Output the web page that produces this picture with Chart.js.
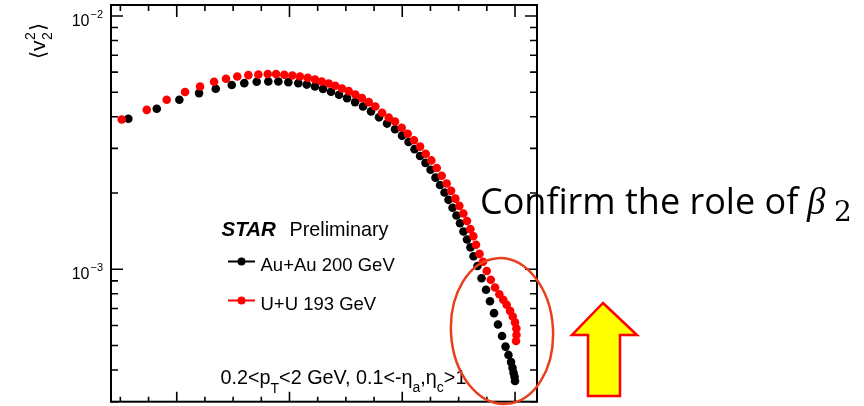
<!DOCTYPE html>
<html>
<head>
<meta charset="utf-8">
<script src="https://cdn.jsdelivr.net/npm/chart.js@4.4.0/dist/chart.umd.min.js"></script>
<style>
  html, body { margin: 0; padding: 0; background: #fff; }
  #wrap { width: 864px; height: 406px; }
</style>
</head>
<body>
<div id="wrap"><canvas id="v2Chart" width="864" height="406"></canvas></div>
<script>
// x axis labels are cut off in the original figure, units are arbitrary
// <v2^2> values are stored in units of 1e-3

// U+U 193 GeV (red)
const uuX = [51.2, 73.4, 91.1, 107.4, 120.7, 133.1, 143.7, 153.7, 163.5, 172.4,
  180.7, 188.1, 195.4, 202.5, 209.3, 216.2, 222.6, 228.6, 234.8, 240.6,
  246.6, 252.5, 258.4, 264.3, 270.3, 276.1, 282.1, 288.0, 293.6, 299.5,
  304.8, 310.4, 315.8, 320.8, 325.8, 330.6, 335.0, 339.4, 343.3, 347.1,
  350.6, 354.2, 357.4, 360.4, 363.0, 365.4, 368.5, 371.6, 374.9, 378.5,
  382.3, 386.1, 389.6, 392.6, 395.6, 398.0, 400.0, 401.2, 401.3, 400.9];
const uuV2 = [3.90, 4.26, 4.67, 5.01, 5.27, 5.50, 5.65, 5.77, 5.84, 5.87,
  5.90, 5.90, 5.86, 5.82, 5.77, 5.70, 5.61, 5.51, 5.41, 5.30,
  5.17, 5.05, 4.90, 4.74, 4.57, 4.39, 4.15, 3.97, 3.83, 3.62,
  3.43, 3.23, 3.05, 2.86, 2.69, 2.51, 2.34, 2.18, 2.04, 1.90,
  1.78, 1.66, 1.55, 1.44, 1.35, 1.25, 1.15, 1.07, 0.985, 0.909,
  0.847, 0.797, 0.758, 0.724, 0.685, 0.651, 0.617, 0.583, 0.550, 0.521];

// Au+Au 200 GeV (black)
const auX = [57.1, 82.3, 102.3, 119.8, 134.6, 148.8, 159.9, 170.9, 181.2, 190.1,
  199.0, 207.8, 215.3, 222.6, 229.7, 236.8, 243.9, 251.0, 258.1, 265.2,
  272.3, 279.4, 286.5, 293.6, 299.8, 305.6, 310.9, 315.8, 320.6, 325.1,
  329.5, 333.5, 337.5, 341.0, 344.6, 348.1, 351.2, 354.3, 357.4, 360.5,
  363.2, 366.7, 370.3, 374.3, 377.8, 381.4, 384.9, 388.5, 391.6, 394.2,
  396.5, 397.8, 398.7, 399.6, 400.0];
const auV2 = [3.93, 4.30, 4.67, 4.96, 5.16, 5.34, 5.43, 5.50, 5.51, 5.51,
  5.48, 5.43, 5.36, 5.27, 5.15, 5.02, 4.89, 4.74, 4.57, 4.39,
  4.20, 3.98, 3.76, 3.57, 3.37, 3.18, 2.98, 2.80, 2.63, 2.47,
  2.30, 2.15, 2.01, 1.88, 1.75, 1.63, 1.52, 1.41, 1.31, 1.22,
  1.125, 1.03, 0.922, 0.830, 0.748, 0.671, 0.605, 0.545, 0.495, 0.459,
  0.430, 0.408, 0.390, 0.376, 0.362];

// axis ticks
const xMinorStep = 25;
const xMajorStep = 100;
const yDecades = [-4, -3, -2];
const yLabelValues = [1e-3, 1e-2];
const yLabelExps = ["\u22123", "\u22122"];

const FONT = '"Liberation Sans", Arial, Helvetica, sans-serif';

function toPoints(xs, vs) {
  return xs.map((x, i) => ({ x: x, y: vs[i] * 1e-3 }));
}

// draw a run of text pieces (sub/superscripts) one after another
function drawRich(ctx, x, y, parts) {
  parts.forEach(p => {
    ctx.font = (p.style || "") + " " + p.size + "px " + (p.family || FONT);
    ctx.fillText(p.t, x, y + (p.dy || 0));
    x += ctx.measureText(p.t).width;
  });
  return x;
}

const decorPlugin = {
  id: "decor",
  afterDatasetsDraw(chart) {
    const ctx = chart.ctx;
    const { left, right, top, bottom } = chart.chartArea;
    const xs = chart.scales.x;
    const ys = chart.scales.y;
    ctx.save();
    ctx.strokeStyle = "#000";
    ctx.fillStyle = "#000";

    // frame
    ctx.lineWidth = 2;
    ctx.strokeRect(left, top, right - left, bottom - top);

    // x ticks, bottom and top
    ctx.lineWidth = 1.6;
    ctx.beginPath();
    for (let v = Math.ceil(xs.min / xMinorStep) * xMinorStep; v <= xs.max; v += xMinorStep) {
      const px = xs.getPixelForValue(v);
      const major = v % xMajorStep === 0;
      ctx.moveTo(px, bottom);
      ctx.lineTo(px, bottom - (major ? 10 : 5));
      ctx.moveTo(px, top);
      ctx.lineTo(px, top + (major ? 12 : 6));
    }
    // y ticks, left and right (log)
    yDecades.forEach(e => {
      for (let m = 1; m <= 9; m++) {
        const v = m * Math.pow(10, e);
        if (v < ys.min || v > ys.max) continue;
        const py = ys.getPixelForValue(v);
        const len = m === 1 ? 12 : 7;
        ctx.moveTo(left, py);
        ctx.lineTo(left + len, py);
        ctx.moveTo(right, py);
        ctx.lineTo(right - len, py);
      }
    });
    ctx.stroke();

    // y tick labels 10^-3, 10^-2
    ctx.textBaseline = "alphabetic";
    yLabelValues.forEach((v, i) => {
      const py = ys.getPixelForValue(v);
      ctx.font = "16px " + FONT;
      ctx.textAlign = "right";
      ctx.fillText("10", 89.5, py + 10);
      ctx.font = "11px " + FONT;
      ctx.textAlign = "left";
      ctx.fillText(yLabelExps[i], 90.5, py + 2);
    });

    // y axis title <v2^2>, rotated
    ctx.save();
    ctx.translate(45, 59);
    ctx.rotate(-Math.PI / 2);
    ctx.textAlign = "left";
    ctx.font = "21px " + FONT;
    ctx.fillText("\u27e8", 0, 0);
    let ax = ctx.measureText("\u27e8").width;
    ctx.fillText("v", ax, 0);
    ax += ctx.measureText("v").width;
    ctx.font = "14px " + FONT;
    ctx.fillText("2", ax + 0.5, -10);
    ctx.fillText("2", ax + 0.5, 7);
    ax += ctx.measureText("2").width + 1.5;
    ctx.font = "21px " + FONT;
    ctx.fillText("\u27e9", ax, 0);
    ctx.restore();

    // STAR Preliminary
    ctx.textAlign = "left";
    ctx.font = "italic bold 20.5px " + FONT;
    ctx.fillText("STAR", 221.5, 236);
    ctx.font = "19.8px " + FONT;
    ctx.fillText("Preliminary", 289.5, 236);

    // legend entries
    const legend = [
      { label: "Au+Au 200 GeV", color: "#000", y: 261.5, base: 271 },
      { label: "U+U 193 GeV", color: "#ff0000", y: 300.5, base: 310 }
    ];
    legend.forEach(l => {
      ctx.strokeStyle = l.color;
      ctx.fillStyle = l.color;
      ctx.lineWidth = 2;
      ctx.beginPath();
      ctx.moveTo(228, l.y);
      ctx.lineTo(255, l.y);
      ctx.stroke();
      ctx.beginPath();
      ctx.arc(241.5, l.y, 4, 0, Math.PI * 2);
      ctx.fill();
      ctx.fillStyle = "#000";
      ctx.font = "18.5px " + FONT;
      ctx.fillText(l.label, 260.5, l.base);
    });

    // kinematic cuts
    ctx.fillStyle = "#000";
    drawRich(ctx, 220.5, 384, [
      { t: "0.2<p", size: 19.8 },
      { t: "T", size: 14, dy: 9 },
      { t: "<2 GeV, 0.1<-\u03b7", size: 19.8 },
      { t: "a", size: 14, dy: 8 },
      { t: ",\u03b7", size: 19.8 },
      { t: "c", size: 14, dy: 8 },
      { t: ">1", size: 19.8 }
    ]);

    // annotation
    ctx.fillStyle = "#000";
    drawRich(ctx, 480, 214, [
      { t: "Confirm the role of", size: 36, family: '"Open Sans", "Noto Sans", sans-serif' }
    ]);
    drawRich(ctx, 807, 214, [
      { t: "\u03b2", size: 37, style: "italic", family: '"Liberation Serif", "DejaVu Serif", serif' }
    ]);
    drawRich(ctx, 834, 221, [
      { t: "2", size: 28, family: '"DejaVu Serif", "Liberation Serif", serif' }
    ]);

    // red ellipse around the central events
    ctx.strokeStyle = "#e8401c";
    ctx.lineWidth = 2.5;
    ctx.beginPath();
    ctx.ellipse(502, 331, 51, 73, -0.06, 0, Math.PI * 2);
    ctx.stroke();

    // yellow up arrow
    ctx.fillStyle = "#ffff00";
    ctx.strokeStyle = "#ff0000";
    ctx.lineWidth = 2.5;
    ctx.lineJoin = "miter";
    ctx.beginPath();
    ctx.moveTo(603, 303);
    ctx.lineTo(637, 335);
    ctx.lineTo(620, 335);
    ctx.lineTo(620, 396);
    ctx.lineTo(588, 396);
    ctx.lineTo(588, 335);
    ctx.lineTo(572, 335);
    ctx.closePath();
    ctx.fill();
    ctx.stroke();

    ctx.restore();
  }
};

new Chart(document.getElementById("v2Chart"), {
  type: "scatter",
  data: {
    datasets: [
      {
        label: "U+U 193 GeV",
        data: toPoints(uuX, uuV2),
        backgroundColor: "#ff0000",
        borderWidth: 0,
        pointRadius: 4.3
      },
      {
        label: "Au+Au 200 GeV",
        data: toPoints(auX, auV2),
        backgroundColor: "#000000",
        borderWidth: 0,
        pointRadius: 4.3
      }
    ]
  },
  options: {
    responsive: false,
    animation: false,
    devicePixelRatio: 1,
    layout: { padding: { left: 111, right: 327, top: 5, bottom: 3 } },
    scales: {
      x: { type: "linear", display: false, min: 41.7, max: 419.5 },
      y: { type: "logarithmic", display: false, min: 3e-4, max: 1.105e-2 }
    },
    plugins: {
      legend: { display: false },
      tooltip: { enabled: false }
    }
  },
  plugins: [decorPlugin]
});
</script>
</body>
</html>
